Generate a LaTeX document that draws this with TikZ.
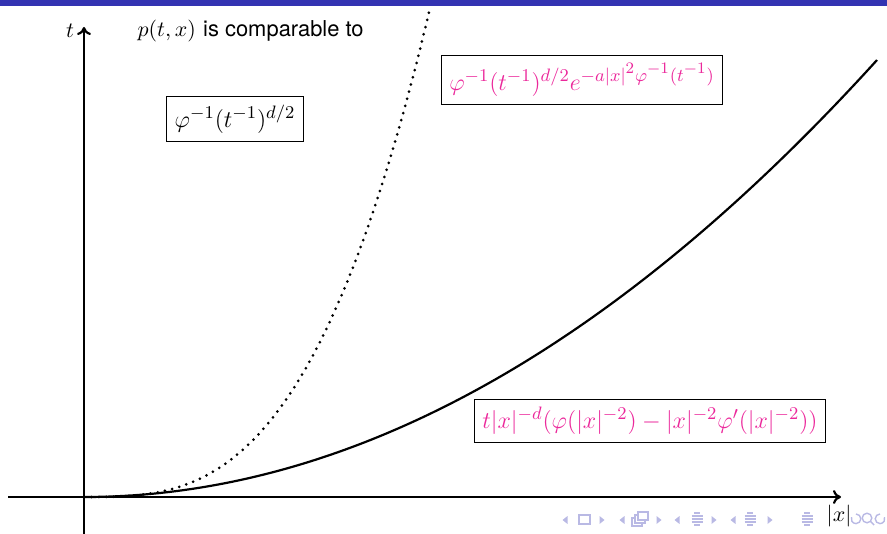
\documentclass[11pt,tikz,border=0pt]{standalone}
\usepackage{fontspec}
\newfontfamily\heros{TeX Gyre Heros}
\usetikzlibrary{arrows.meta}
\DeclareMathSizes{12}{12}{9}{8}
\definecolor{barblue}{RGB}{51,51,178}
\definecolor{formpink}{RGB}{235,40,155}
\definecolor{navcol}{RGB}{185,185,228}
\begin{document}
\begin{tikzpicture}[x=0.5pt,y=-0.5pt,
  axis/.style={line width=1.1pt,-{To[length=4pt,width=7pt]}},
  curve/.style={line width=1.1pt},
  dotcurve/.style={line width=1.5pt, line cap=round, dash pattern=on 0pt off 3.7pt},
  formbox/.style={draw, line width=0.5pt, inner sep=4pt, font=\fontsize{12}{14}\selectfont},
  navline/.style={navcol, line width=0.7pt}]
\useasboundingbox (0,0) rectangle (887,534);
\fill[barblue] (0,0) rectangle (887,6);
% axes
\coordinate (O) at (84,497);
\coordinate (xstart) at (8,497);
\coordinate (xend) at (841,497);
\coordinate (tstart) at (84,534);
\coordinate (tend) at (84,27);
\draw[axis] (xstart) -- (xend);
\draw[axis] (tstart) -- (tend);
% curves
\draw[curve] plot[domain=0:793, samples=120, smooth] ({84+\x},{497-437*(\x/793)^2});
\draw[dotcurve] plot[domain=0:346, samples=120, smooth] ({84+\x},{497-489*(\x/346)^3});
% labels
\node (tlab) at (70,31) {$t$};
\node[anchor=west] (title) at (130,31) {$p(t,x)$ {\heros is comparable to}};
\node[formbox] (f1) at (235,119) {$\varphi^{-1}(t^{-1})^{d/2}$};
\node[formbox, text=formpink] (f2) at (582,80) {$\varphi^{-1}(t^{-1})^{d/2}e^{-a|x|^2\varphi^{-1}(t^{-1})}$};
\node[formbox, text=formpink] (f3) at (650,421) {$t|x|^{-d}(\varphi(|x|^{-2})-|x|^{-2}\varphi'(|x|^{-2}))$};
% navigation symbols
\foreach \cx in {565,622,677,733} \fill[navcol] (\cx+2.5,516) -- (\cx-2.5,520) -- (\cx+2.5,524) -- cycle;
\foreach \cx in {602,659,714,770} \fill[navcol] (\cx-2.5,516) -- (\cx+2.5,520) -- (\cx-2.5,524) -- cycle;
\draw[navline] (579,515) rectangle (590,524);
\foreach \d in {0,3,6} \draw[navline, fill=white] (632+\d,526-\d) rectangle (642+\d,518-\d);
\foreach \cx in {697,750,807} {
  \foreach \yy/\w in {513/3,516/5.5,519/5.5,522/5.5,525/3} \draw[navline] (\cx-\w,\yy) -- (\cx+\w,\yy);
}
\draw[navline] (856,519) ++(0,-5) arc[start angle=90, end angle=-200, radius=2.4pt];
\draw[navline] (867,518) circle (2.4pt);
\draw[navline] (870.5,521.5) -- (874,525);
\draw[navline] (880,519) ++(0,-5) arc[start angle=90, end angle=380, radius=2.4pt];
\node (xlab) at (839,516) {$|x|$};
\end{tikzpicture}
\end{document}
